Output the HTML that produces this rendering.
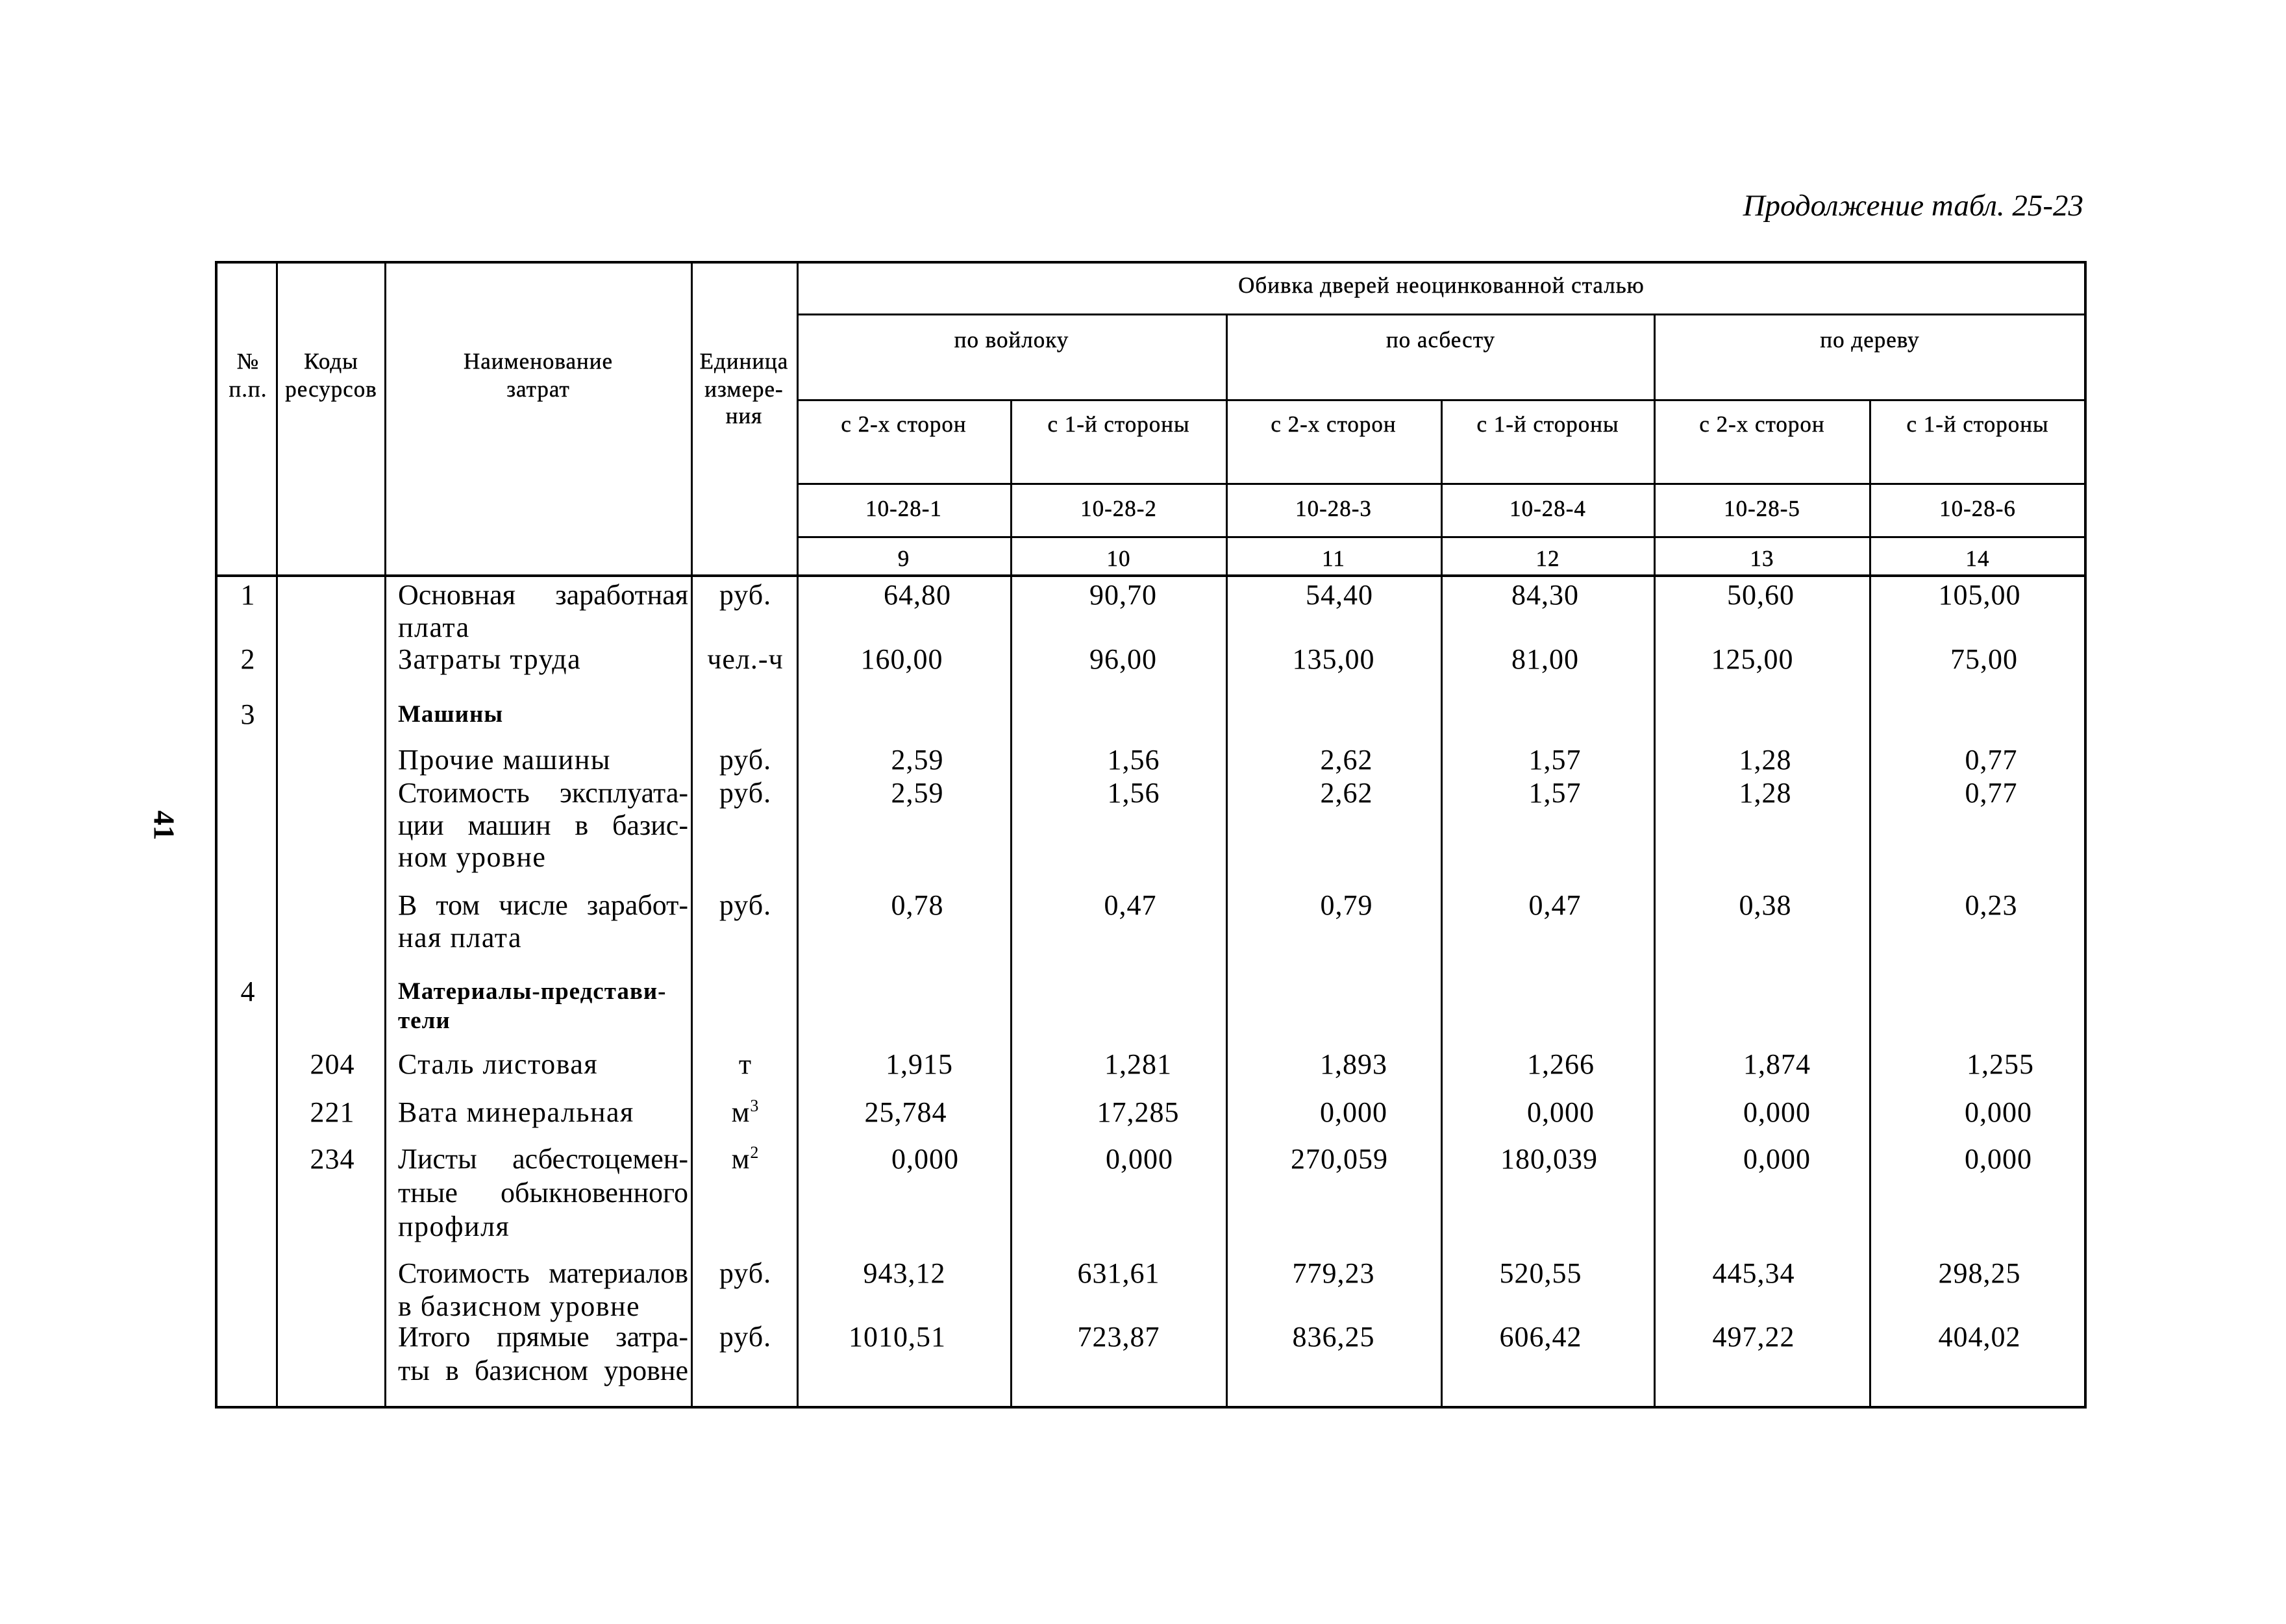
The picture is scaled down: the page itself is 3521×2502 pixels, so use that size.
<!DOCTYPE html>
<html><head><meta charset="utf-8">
<style>
html,body{margin:0;padding:0;background:#fff;}
body{width:3521px;height:2502px;position:relative;overflow:hidden;font-family:"Liberation Serif","DejaVu Serif",serif;color:#000;}
.h,.v{position:absolute;background:#000;}
.t{position:absolute;white-space:nowrap;transform:translateX(-50%);font-size:44px;line-height:50px;letter-spacing:1px;}
.s{position:absolute;white-space:nowrap;transform:translateX(-50%);font-size:35px;line-height:40px;letter-spacing:1px;-webkit-text-stroke:0.4px #000;}
.n{position:absolute;left:613px;width:447px;font-size:44px;line-height:50px;white-space:nowrap;letter-spacing:1.5px;}
.j{text-align:justify;text-align-last:justify;white-space:normal;letter-spacing:0;height:50px;overflow:hidden;}
.b{font-weight:bold;font-size:37px;letter-spacing:1px;}
sup{font-size:26px;vertical-align:0;position:relative;top:-16px;}
</style></head><body>
<div style="position:absolute;right:312px;top:290px;font-size:47px;font-style:italic;white-space:nowrap;">Продолжение табл. 25-23</div>
<div style="position:absolute;left:230px;top:1245px;font-size:46px;font-weight:bold;transform:rotate(90deg);">41</div>

<div class="h" style="left:332px;top:402px;width:2881px;height:4px"></div>
<div class="h" style="left:332px;top:2166px;width:2881px;height:4px"></div>
<div class="h" style="left:1228px;top:483px;width:1985px;height:3px"></div>
<div class="h" style="left:1228px;top:615px;width:1985px;height:3px"></div>
<div class="h" style="left:1228px;top:744px;width:1985px;height:3px"></div>
<div class="h" style="left:1228px;top:826px;width:1985px;height:3px"></div>
<div class="h" style="left:332px;top:885px;width:2881px;height:4px"></div>
<div class="v" style="left:331px;top:402px;width:4px;height:1768px"></div>
<div class="v" style="left:425px;top:402px;width:3px;height:1768px"></div>
<div class="v" style="left:592px;top:402px;width:3px;height:1768px"></div>
<div class="v" style="left:1064px;top:402px;width:3px;height:1768px"></div>
<div class="v" style="left:1227px;top:402px;width:3px;height:1768px"></div>
<div class="v" style="left:3210px;top:402px;width:4px;height:1768px"></div>
<div class="v" style="left:1888px;top:483px;width:3px;height:1687px"></div>
<div class="v" style="left:2547px;top:483px;width:3px;height:1687px"></div>
<div class="v" style="left:1556px;top:615px;width:3px;height:1555px"></div>
<div class="v" style="left:2219px;top:615px;width:3px;height:1555px"></div>
<div class="v" style="left:2879px;top:615px;width:3px;height:1555px"></div>

<div class="s" style="left:382px;top:537px">№</div>
<div class="s" style="left:382px;top:580px">п.п.</div>
<div class="s" style="left:510px;top:537px">Коды</div>
<div class="s" style="left:510px;top:580px">ресурсов</div>
<div class="s" style="left:829px;top:537px">Наименование</div>
<div class="s" style="left:829px;top:580px">затрат</div>
<div class="s" style="left:1146px;top:537px">Единица</div>
<div class="s" style="left:1146px;top:580px">измере-</div>
<div class="s" style="left:1146px;top:621px">ния</div>
<div class="s" style="left:2220px;top:420px">Обивка дверей неоцинкованной сталью</div>
<div class="s" style="left:1558px;top:504px">по войлоку</div>
<div class="s" style="left:2219px;top:504px">по асбесту</div>
<div class="s" style="left:2880px;top:504px">по дереву</div>
<div class="s" style="left:1392px;top:634px">с 2-х сторон</div>
<div class="s" style="left:1723px;top:634px">с 1-й стороны</div>
<div class="s" style="left:2054px;top:634px">с 2-х сторон</div>
<div class="s" style="left:2384px;top:634px">с 1-й стороны</div>
<div class="s" style="left:2714px;top:634px">с 2-х сторон</div>
<div class="s" style="left:3046px;top:634px">с 1-й стороны</div>
<div class="s" style="left:1392px;top:764px">10-28-1</div>
<div class="s" style="left:1723px;top:764px">10-28-2</div>
<div class="s" style="left:2054px;top:764px">10-28-3</div>
<div class="s" style="left:2384px;top:764px">10-28-4</div>
<div class="s" style="left:2714px;top:764px">10-28-5</div>
<div class="s" style="left:3046px;top:764px">10-28-6</div>
<div class="s" style="left:1392px;top:841px">9</div>
<div class="s" style="left:1723px;top:841px">10</div>
<div class="s" style="left:2054px;top:841px">11</div>
<div class="s" style="left:2384px;top:841px">12</div>
<div class="s" style="left:2714px;top:841px">13</div>
<div class="s" style="left:3046px;top:841px">14</div>

<div class="t" style="left:382px;top:892px">1</div>
<div class="t" style="left:382px;top:991px">2</div>
<div class="t" style="left:382px;top:1076px">3</div>
<div class="t" style="left:382px;top:1503px">4</div>
<div class="t" style="left:512px;top:1615px">204</div>
<div class="t" style="left:512px;top:1689px">221</div>
<div class="t" style="left:512px;top:1761px">234</div>

<div class="n j" style="top:892px">Основная заработная</div>
<div class="n" style="top:942px">плата</div>
<div class="n" style="top:991px">Затраты труда</div>
<div class="n b" style="top:1076px">Машины</div>
<div class="n" style="top:1146px">Прочие машины</div>
<div class="n j" style="top:1197px">Стоимость эксплуата-</div>
<div class="n j" style="top:1247px">ции машин в базис-</div>
<div class="n" style="top:1296px">ном уровне</div>
<div class="n j" style="top:1370px">В том числе заработ-</div>
<div class="n" style="top:1420px">ная плата</div>
<div class="n b" style="top:1503px">Материалы-представи-</div>
<div class="n b" style="top:1548px">тели</div>
<div class="n" style="top:1615px">Сталь листовая</div>
<div class="n" style="top:1689px">Вата минеральная</div>
<div class="n j" style="top:1761px">Листы асбестоцемен-</div>
<div class="n j" style="top:1813px">тные обыкновенного</div>
<div class="n" style="top:1865px">профиля</div>
<div class="n j" style="top:1937px">Стоимость материалов</div>
<div class="n" style="top:1988px">в базисном уровне</div>
<div class="n j" style="top:2035px">Итого прямые затра-</div>
<div class="n j" style="top:2087px">ты в базисном уровне</div>

<div class="t" style="left:1148px;top:892px">руб.</div>
<div class="t" style="left:1148px;top:991px">чел.-ч</div>
<div class="t" style="left:1148px;top:1146px">руб.</div>
<div class="t" style="left:1148px;top:1197px">руб.</div>
<div class="t" style="left:1148px;top:1370px">руб.</div>
<div class="t" style="left:1148px;top:1615px">т</div>
<div class="t" style="left:1148px;top:1689px">м<sup>3</sup></div>
<div class="t" style="left:1148px;top:1761px">м<sup>2</sup></div>
<div class="t" style="left:1148px;top:1937px">руб.</div>
<div class="t" style="left:1148px;top:2035px">руб.</div>

<div class="t" style="left:1413px;top:892px">64,80</div>
<div class="t" style="left:1389px;top:991px">160,00</div>
<div class="t" style="left:1413px;top:1146px">2,59</div>
<div class="t" style="left:1413px;top:1197px">2,59</div>
<div class="t" style="left:1413px;top:1370px">0,78</div>
<div class="t" style="left:1416px;top:1615px">1,915</div>
<div class="t" style="left:1395px;top:1689px">25,784</div>
<div class="t" style="left:1425px;top:1761px">0,000</div>
<div class="t" style="left:1393px;top:1937px">943,12</div>
<div class="t" style="left:1382px;top:2035px">1010,51</div>
<div class="t" style="left:1730px;top:892px">90,70</div>
<div class="t" style="left:1730px;top:991px">96,00</div>
<div class="t" style="left:1746px;top:1146px">1,56</div>
<div class="t" style="left:1746px;top:1197px">1,56</div>
<div class="t" style="left:1741px;top:1370px">0,47</div>
<div class="t" style="left:1753px;top:1615px">1,281</div>
<div class="t" style="left:1753px;top:1689px">17,285</div>
<div class="t" style="left:1755px;top:1761px">0,000</div>
<div class="t" style="left:1723px;top:1937px">631,61</div>
<div class="t" style="left:1723px;top:2035px">723,87</div>
<div class="t" style="left:2063px;top:892px">54,40</div>
<div class="t" style="left:2054px;top:991px">135,00</div>
<div class="t" style="left:2074px;top:1146px">2,62</div>
<div class="t" style="left:2074px;top:1197px">2,62</div>
<div class="t" style="left:2074px;top:1370px">0,79</div>
<div class="t" style="left:2085px;top:1615px">1,893</div>
<div class="t" style="left:2085px;top:1689px">0,000</div>
<div class="t" style="left:2063px;top:1761px">270,059</div>
<div class="t" style="left:2054px;top:1937px">779,23</div>
<div class="t" style="left:2054px;top:2035px">836,25</div>
<div class="t" style="left:2380px;top:892px">84,30</div>
<div class="t" style="left:2380px;top:991px">81,00</div>
<div class="t" style="left:2395px;top:1146px">1,57</div>
<div class="t" style="left:2395px;top:1197px">1,57</div>
<div class="t" style="left:2395px;top:1370px">0,47</div>
<div class="t" style="left:2404px;top:1615px">1,266</div>
<div class="t" style="left:2404px;top:1689px">0,000</div>
<div class="t" style="left:2386px;top:1761px">180,039</div>
<div class="t" style="left:2373px;top:1937px">520,55</div>
<div class="t" style="left:2373px;top:2035px">606,42</div>
<div class="t" style="left:2712px;top:892px">50,60</div>
<div class="t" style="left:2699px;top:991px">125,00</div>
<div class="t" style="left:2719px;top:1146px">1,28</div>
<div class="t" style="left:2719px;top:1197px">1,28</div>
<div class="t" style="left:2719px;top:1370px">0,38</div>
<div class="t" style="left:2737px;top:1615px">1,874</div>
<div class="t" style="left:2737px;top:1689px">0,000</div>
<div class="t" style="left:2737px;top:1761px">0,000</div>
<div class="t" style="left:2701px;top:1937px">445,34</div>
<div class="t" style="left:2701px;top:2035px">497,22</div>
<div class="t" style="left:3049px;top:892px">105,00</div>
<div class="t" style="left:3056px;top:991px">75,00</div>
<div class="t" style="left:3067px;top:1146px">0,77</div>
<div class="t" style="left:3067px;top:1197px">0,77</div>
<div class="t" style="left:3067px;top:1370px">0,23</div>
<div class="t" style="left:3081px;top:1615px">1,255</div>
<div class="t" style="left:3078px;top:1689px">0,000</div>
<div class="t" style="left:3078px;top:1761px">0,000</div>
<div class="t" style="left:3049px;top:1937px">298,25</div>
<div class="t" style="left:3049px;top:2035px">404,02</div>
</body></html>
